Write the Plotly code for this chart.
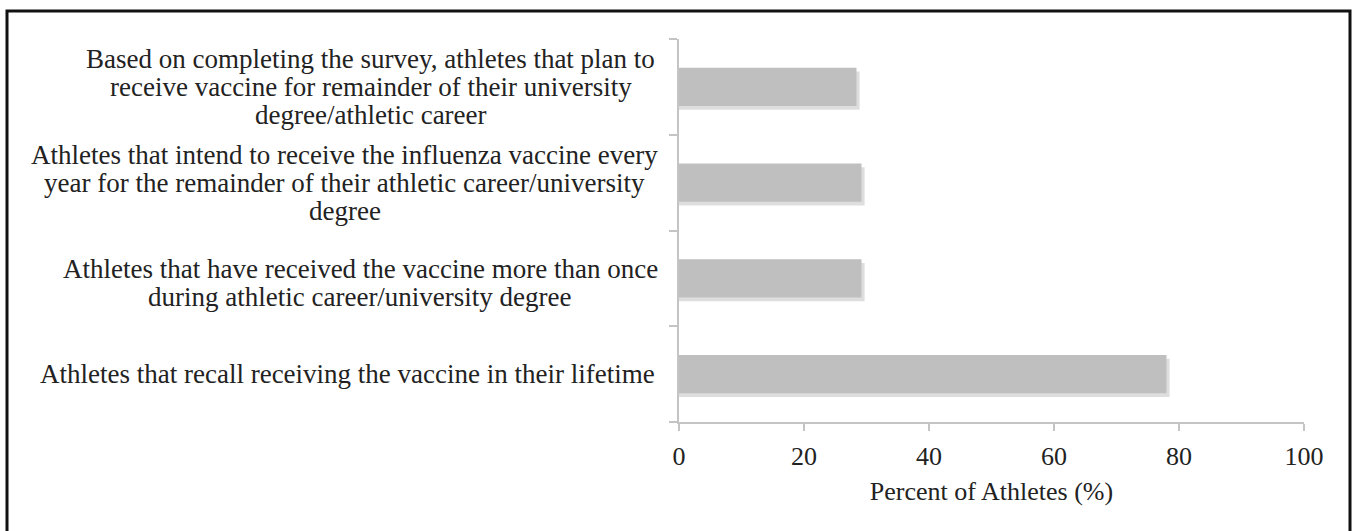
import plotly.graph_objects as go

categories = [
    "Based on completing the survey, athletes that plan to<br>receive vaccine for remainder of their university<br>degree/athletic career",
    "Athletes that intend to receive the influenza vaccine every<br>year for the remainder of their athletic career/university<br>degree",
    "Athletes that have received the vaccine more than once<br>during athletic career/university degree",
    "Athletes that recall receiving the vaccine in their lifetime",
]
values = [28.4, 29.2, 29.2, 78.0]
x_ticks = [0, 20, 40, 60, 80, 100]
x_title = "Percent of Athletes (%)"

W, H = 1357, 531
L, R, T, B = 679, 53, 39, 109
pw, ph = W - L - R, H - T - B

n = len(categories)
ypos = [n - 1 - i for i in range(n)]
FONT = "Liberation Serif, Times New Roman, serif"
FS = 27
LINE_PX = 28
unit_px = ph / n
label_shift_px = [0, 0, 5, 0]  # fine vertical nudges of label blocks


def approx_w(s):
    narrow = set("iljtfrI.,/()' ")
    wide = set("mwMW%")
    w = 0.0
    for ch in s:
        if ch in narrow:
            w += 0.30
        elif ch in wide:
            w += 0.78
        elif ch.isupper():
            w += 0.67
        else:
            w += 0.47
    return w * FS * 0.967


fig = go.Figure()
# soft shadow
fig.add_trace(go.Bar(
    x=[v + 0.5 for v in values], y=ypos, orientation="h",
    width=0.4, offset=-0.24,
    marker=dict(color="rgba(0,0,0,0.13)", line=dict(width=0)),
    hoverinfo="skip", showlegend=False,
))
fig.add_trace(go.Bar(
    x=values, y=ypos, orientation="h",
    width=0.4, offset=-0.2,
    marker=dict(color="#bfbfbf", line=dict(width=0)),
    showlegend=False,
))

# centred multi-line category labels, one annotation per line
for c, y, sh in zip(categories, ypos, label_shift_px):
    lines = c.split("<br>")
    m = len(lines)
    wmax = max(approx_w(s) for s in lines)
    centre_px = 656 - wmax / 2
    for k, line in enumerate(lines):
        dy_px = (k - (m - 1) / 2) * LINE_PX + sh
        fig.add_annotation(
            x=(centre_px - L) / pw, xref="paper", xanchor="center",
            y=y - dy_px / unit_px, yref="y", yanchor="middle",
            text=line, showarrow=False,
            font=dict(family=FONT, size=FS, color="#222"),
        )

# outer frame
fig.add_shape(
    type="rect", xref="paper", yref="paper",
    x0=(7 - L) / pw, x1=(1350 - L) / pw,
    y0=1 - (540 - T) / ph, y1=1 - (11 - T) / ph,
    line=dict(color="#111", width=3), fillcolor="rgba(0,0,0,0)", layer="above",
)

fig.update_layout(
    width=W, height=H,
    margin=dict(l=L, r=R, t=T, b=B, pad=0),
    paper_bgcolor="white", plot_bgcolor="white",
    barmode="overlay",
    font=dict(family=FONT, size=FS, color="#222"),
    xaxis=dict(
        range=[0, 100], tickvals=x_ticks, showgrid=False, zeroline=False,
        showline=True, linecolor="#c4c4c4", linewidth=2,
        ticks="outside", ticklen=7, tickcolor="#c4c4c4", tickwidth=2,
        tickfont=dict(family=FONT, size=26, color="#222"),
        ticklabelstandoff=3,
        title=dict(text=x_title, font=dict(family=FONT, size=26, color="#222"), standoff=12),
    ),
    yaxis=dict(
        range=[-0.5, n - 0.5], tickvals=[i - 0.5 for i in range(n + 1)],
        showticklabels=False, showgrid=False, zeroline=False,
        showline=True, linecolor="#c4c4c4", linewidth=2,
        ticks="outside", ticklen=8, tickcolor="#c4c4c4", tickwidth=2,
    ),
)

fig.write_html("out.html")
